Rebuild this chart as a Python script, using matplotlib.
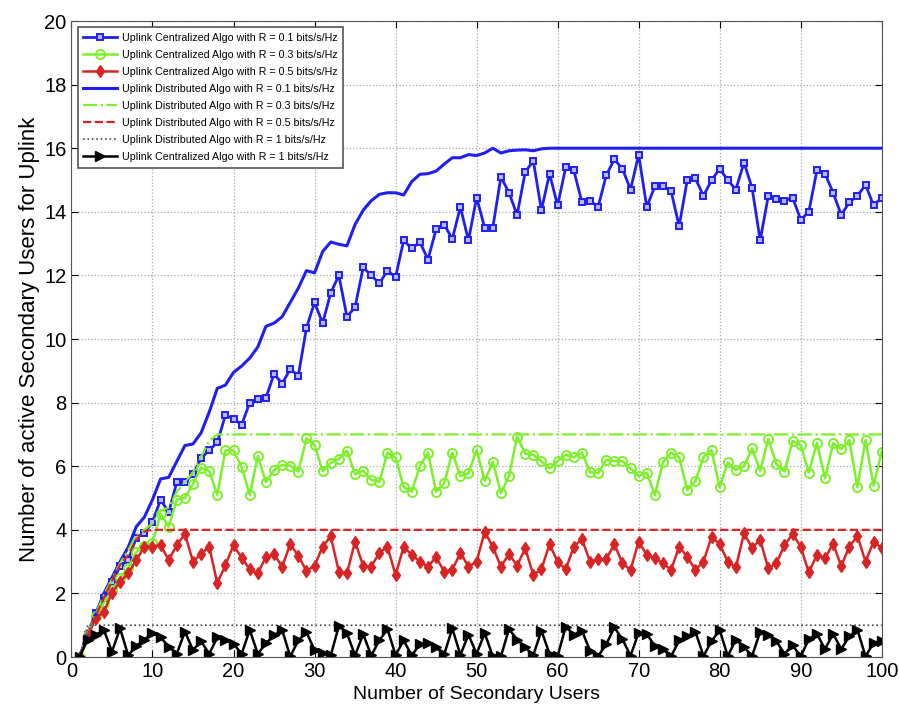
import numpy as np
import matplotlib
matplotlib.use('Agg')
import matplotlib.pyplot as plt

plt.rcParams['font.family'] = ['Liberation Sans', 'DejaVu Sans']

users = np.arange(1, 101)

# centralized, R = 0.1
cen_01 = [0, 0.7, 1.4, 1.85, 2.35, 2.85, 3.05, 3.75, 3.9, 4.25,
          4.95, 4.55, 5.5, 5.5, 5.75, 6.25, 6.5, 6.75, 7.6, 7.5,
          7.3, 8.0, 8.1, 8.15, 8.9, 8.6, 9.05, 8.85, 10.35, 11.15,
          10.5, 11.45, 12.0, 10.7, 11.0, 12.25, 12.0, 11.75, 12.15, 11.95,
          13.1, 12.85, 13.05, 12.5, 13.45, 13.6, 13.15, 14.15, 13.1, 14.45,
          13.5, 13.5, 15.1, 14.6, 13.9, 15.25, 15.6, 14.05, 15.2, 14.2,
          15.4, 15.3, 14.3, 14.35, 14.15, 15.15, 15.65, 15.35, 14.7, 15.8,
          14.15, 14.8, 14.8, 14.65, 13.55, 15.0, 15.05, 14.5, 15.0, 15.35,
          15.0, 14.7, 15.55, 14.75, 13.1, 14.5, 14.4, 14.35, 14.45, 13.75,
          14.0, 15.3, 15.2, 14.6, 13.9, 14.3, 14.5, 14.85, 14.2, 14.45]

# centralized, R = 0.3
cen_03 = [0, 0.7, 1.3, 1.7, 2.1, 2.5, 2.8, 3.3, 3.5, 3.6,
          4.5, 4.1, 4.95, 5.0, 5.45, 5.95, 5.85, 5.1, 6.5, 6.5,
          5.98, 5.1, 6.32, 5.5, 5.88, 6.04, 6.02, 5.83, 6.88, 6.67,
          5.85, 6.11, 6.23, 6.49, 5.75, 5.86, 5.57, 5.51, 6.43, 6.28,
          5.34, 5.2, 6.0, 6.43, 5.2, 5.46, 6.43, 5.69, 5.78, 6.51,
          5.54, 6.14, 5.15, 5.69, 6.93, 6.4, 6.36, 6.16, 5.93, 6.16,
          6.36, 6.28, 6.43, 5.81, 5.78, 6.2, 6.16, 6.16, 5.93, 5.69,
          5.8, 5.09, 6.12, 6.43, 6.28, 5.25, 5.54, 6.28, 6.51, 5.34,
          6.12, 5.88, 6.0, 6.56, 5.86, 6.86, 6.07, 5.83, 6.79, 6.67,
          5.8, 6.74, 5.62, 6.72, 6.54, 6.82, 5.34, 6.82, 5.39, 6.46]

# centralized, R = 0.5
cen_05 = [0, 0.65, 1.22, 1.42, 2.02, 2.37, 2.63, 3.05, 3.47, 3.47,
          3.52, 3.05, 3.52, 3.87, 3.0, 3.24, 3.47, 2.32, 2.89, 3.52,
          3.12, 2.76, 2.63, 3.15, 3.24, 2.84, 3.55, 3.18, 2.71, 2.87,
          3.47, 3.8, 2.68, 2.63, 3.63, 2.87, 2.84, 3.28, 3.47, 2.58,
          3.47, 3.21, 3.0, 2.84, 3.15, 2.68, 2.74, 3.28, 2.84, 3.0,
          3.94, 3.47, 2.84, 3.24, 2.87, 3.42, 2.58, 2.76, 3.55, 3.0,
          2.76, 3.47, 3.71, 3.0, 3.07, 3.08, 3.55, 2.95, 2.74, 3.63,
          3.21, 3.1, 2.95, 2.74, 3.47, 3.15, 2.74, 3.0, 3.78, 3.55,
          3.0, 2.82, 3.89, 3.44, 3.68, 2.79, 2.95, 3.52, 3.87, 3.47,
          2.66, 3.21, 3.1, 3.57, 2.86, 3.47, 3.81, 3.0, 3.63, 3.42]

# centralized, R = 1
cen_1 = [0, 0.55, 0.7, 0.85, 0.17, 0.9, 0.05, 0.35, 0.55, 0.75,
         0.62, 0.33, 0.1, 0.8, 0.22, 0.5, 0.1, 0.62, 0.52, 0.42,
         0.1, 0.85, 0.1, 0.43, 0.68, 0.85, 0.02, 0.52, 0.78, 0.22,
         0.12, 0.05, 0.98, 0.75, 0.05, 0.72, 0.05, 0.52, 0.88, 0.06,
         0.52, 0.05, 0.4, 0.45, 0.3, 0.08, 0.9, 0.07, 0.7, 0.1,
         0.75, 0.02, 0.02, 0.88, 0.55, 0.3, 0.06, 0.83, 0.1, 0.03,
         0.96, 0.7, 0.83, 0.2, 0.03, 0.4, 0.93, 0.56, 0.04, 0.77,
         0.72, 0.35, 0.25, 0.02, 0.52, 0.65, 0.8, 0.03, 0.5, 0.85,
         0.03, 0.55, 0.32, 0.03, 0.8, 0.68, 0.5, 0.1, 0.37, 0.02,
         0.56, 0.73, 0.25, 0.73, 0.25, 0.65, 0.86, 0.02, 0.45, 0.5]

# distributed, R = 0.1 (flat at 16 from x = 59)
dis_01 = [0, 0.75, 1.35, 2.0, 2.5, 3.0, 3.45, 4.1, 4.4, 4.95,
          5.6, 5.65, 6.15, 6.65, 6.7, 7.05, 7.7, 8.45, 8.55, 8.95,
          9.15, 9.4, 9.75, 10.4, 10.5, 10.7, 11.15, 11.6, 12.15, 12.08,
          12.75, 13.05, 12.98, 12.93, 13.6, 14.05, 14.35, 14.55, 14.6, 14.6,
          14.53, 14.95, 15.18, 15.2, 15.28, 15.5, 15.7, 15.7, 15.8, 15.77,
          15.85, 16.0, 15.85, 15.92, 15.94, 15.95, 15.92, 15.98] + [16.0] * 42

# distributed, R = 0.3 (flat at 7 from x = 18)
dis_03 = [0, 0.75, 1.35, 1.95, 2.45, 2.95, 3.35, 3.85, 4.0, 4.2,
          4.6, 4.7, 5.2, 5.5, 5.8, 6.3, 6.8] + [7.0] * 83

# distributed, R = 0.5 (flat at 4 from x = 10)
dis_05 = [0, 0.7, 1.3, 1.85, 2.4, 2.9, 3.2, 3.7, 3.95] + [4.0] * 91

# distributed, R = 1
dis_1 = [0] + [1.0] * 99

blue = '#1f1ff0'
green = '#7cf02a'
red = '#d82424'

fig = plt.figure(figsize=(9, 7.1), dpi=100)
ax = fig.add_axes([0.0794, 0.0746, 0.9003, 0.8958])

ax.plot(users, cen_01, c=blue, lw=2, marker='s', ms=4.8, mfc='#b8b8ff', mec=blue, mew=1.4,
        label='Uplink Centralized Algo with R = 0.1 bits/s/Hz')
ax.plot(users, cen_03, c=green, lw=1.8, marker='o', ms=6.5, mfc='none', mec=green, mew=1.4,
        label='Uplink Centralized Algo with R = 0.3 bits/s/Hz')
ax.plot(users, cen_05, c=red, lw=1.8, marker='d', ms=6.5, mfc=red, mec=red, mew=1,
        label='Uplink Centralized Algo with R = 0.5 bits/s/Hz')
ax.plot(users, dis_01, c=blue, lw=2.2,
        label='Uplink Distributed Algo with R = 0.1 bits/s/Hz')
ax.plot(users, dis_03, c=green, lw=1.6, ls='-.',
        label='Uplink Distributed Algo with R = 0.3 bits/s/Hz')
ax.plot(users, dis_05, c=red, lw=1.6, ls='--',
        label='Uplink Distributed Algo with R = 0.5 bits/s/Hz')
ax.plot(users, dis_1, c='#444444', lw=1.2, ls=':',
        label='Uplink Distributed Algo with R = 1 bits/s/Hz')
ax.plot(users, cen_1, c='black', lw=1.8, marker='>', ms=6.5, mfc='black', mec='black',
        label='Uplink Centralized Algo with R = 1 bits/s/Hz')

ax.set_xlim(0, 100)
ax.set_ylim(0, 20)
ax.set_xticks(np.arange(0, 101, 10))
ax.set_yticks(np.arange(0, 21, 2))
ax.grid(True, ls=':', color='#a8a8a8', lw=0.9)
ax.tick_params(direction='in', top=True, right=True, labelsize=14.5, length=5)
for s in ax.spines.values():
    s.set_color('#555555')

ax.set_xlabel('Number of Secondary Users', fontsize=14, labelpad=4)
ax.set_ylabel('Number of active Secondary Users for Uplink', fontsize=16, labelpad=3)

leg = ax.legend(loc='upper left', fontsize=7.7, handlelength=3.2, labelspacing=0.66,
                borderaxespad=0.6, fancybox=False, edgecolor='#555555', framealpha=1,
                handletextpad=0.4, borderpad=0.5)
leg.get_frame().set_linewidth(1.2)

fig.savefig('out.png', dpi=100)
